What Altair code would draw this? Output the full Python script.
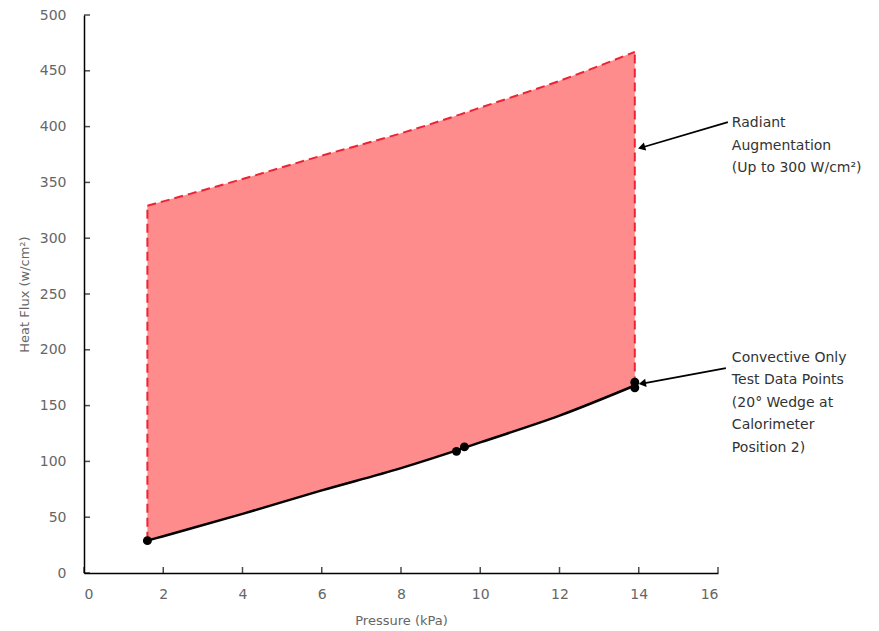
import altair as alt
import pandas as pd

# Convective-only heat flux curve and the radiant-augmented upper bound
pressure = [1.6, 2, 4, 6, 8, 9.5, 10, 12, 13.9]
convective = [29, 33, 53, 74, 94, 111, 117, 141, 168]
radiant_top = [329, 333, 353, 374, 394, 411, 417, 441, 467]

# Measured test points
test_pressure = [1.6, 9.4, 9.6, 13.9, 13.9]
test_flux = [29, 109, 113, 166, 171]

x_ticks = [0, 2, 4, 6, 8, 10, 12, 14, 16]
y_ticks = [0, 50, 100, 150, 200, 250, 300, 350, 400, 450, 500]

# Callout notes (one row per text line) and their leader arrows
note_lines = ["Radiant", "Augmentation", "(Up to 300 W/cm\u00b2)",
              "Convective Only", "Test Data Points", "(20\u00b0 Wedge at",
              "Calorimeter", "Position 2)"]
note_x = [16.35] * 8
note_y = [403, 383, 363, 193, 172.5, 152.5, 132.5, 112]

arrow_x0 = [16.25, 16.2]
arrow_y0 = [404, 183.5]
arrow_x1 = [14.1, 14.12]
arrow_y1 = [381.5, 170]
arrow_angle = [254, 260]

W, H = 634, 558

curve = pd.DataFrame({"p": pressure, "conv": convective, "top": radiant_top})
edges = pd.DataFrame({"p": [pressure[0], pressure[-1]],
                      "lo": [convective[0], convective[-1]],
                      "hi": [radiant_top[0], radiant_top[-1]]})
points = pd.DataFrame({"p": test_pressure, "q": test_flux})
notes = pd.DataFrame({"x": note_x, "y": note_y, "t": note_lines})
arrows = pd.DataFrame({"x0": arrow_x0, "y0": arrow_y0, "x1": arrow_x1,
                       "y1": arrow_y1, "a": arrow_angle})
xt = pd.DataFrame({"v": x_ticks})
yt = pd.DataFrame({"v": y_ticks})

font = "DejaVu Sans"
gray = "#666666"
red = "#ee2233"

xs = alt.Scale(domain=[0, 16], nice=False)
ys = alt.Scale(domain=[0, 500], nice=False)

x_axis = alt.Axis(values=x_ticks, title="Pressure (kPa)", grid=False,
                  ticks=False, tickSize=0, labelPadding=14,
                  domainColor="black", domainWidth=1.5,
                  labelColor=gray, labelFont=font, labelFontSize=14,
                  titleColor=gray, titleFont=font, titleFontSize=13,
                  titleFontWeight="normal", titlePadding=13)
y_axis = alt.Axis(values=y_ticks, title="Heat Flux (w/cm\u00b2)", grid=False,
                  ticks=False, tickSize=0, labelPadding=18,
                  domainColor="black", domainWidth=1.5,
                  labelColor=gray, labelFont=font, labelFontSize=14,
                  titleColor=gray, titleFont=font, titleFontSize=13,
                  titleFontWeight="normal", titlePadding=8)

band = alt.Chart(curve).mark_area(
    color="#ff8c8c", opacity=1, interpolate="monotone"
).encode(
    x=alt.X("p:Q", scale=xs, axis=x_axis),
    y=alt.Y("top:Q", scale=ys, axis=y_axis),
    y2="conv:Q",
)

top_dash = alt.Chart(curve).mark_line(
    color=red, strokeWidth=2, strokeDash=[9, 5], interpolate="monotone"
).encode(x=alt.X("p:Q", scale=xs), y=alt.Y("top:Q", scale=ys))

side_dash = alt.Chart(edges).mark_rule(
    color=red, strokeWidth=2, strokeDash=[9, 5]
).encode(x=alt.X("p:Q", scale=xs), y=alt.Y("lo:Q", scale=ys), y2="hi:Q")

conv_line = alt.Chart(curve).mark_line(
    color="black", strokeWidth=2.5, interpolate="monotone"
).encode(x=alt.X("p:Q", scale=xs), y=alt.Y("conv:Q", scale=ys))

dots = alt.Chart(points).mark_circle(color="black", size=80, opacity=1).encode(
    x=alt.X("p:Q", scale=xs), y=alt.Y("q:Q", scale=ys)
)

x_tick_marks = alt.Chart(xt).mark_tick(
    color="black", thickness=1.5, size=6, yOffset=-3
).encode(x=alt.X("v:Q", scale=xs), y=alt.value(H))

y_tick_marks = alt.Chart(yt).mark_tick(
    color="black", thickness=1.5, size=6, xOffset=3
).encode(y=alt.Y("v:Q", scale=ys), x=alt.value(0))

leaders = alt.Chart(arrows).mark_rule(
    color="black", strokeWidth=1.8, clip=False
).encode(
    x=alt.X("x0:Q", scale=xs), y=alt.Y("y0:Q", scale=ys),
    x2="x1:Q", y2="y1:Q",
)

heads = alt.Chart(arrows).mark_point(
    shape="triangle", filled=True, color="black", size=70, opacity=1, clip=False
).encode(
    x=alt.X("x1:Q", scale=xs), y=alt.Y("y1:Q", scale=ys),
    angle=alt.Angle("a:Q", scale=None),
)

text = alt.Chart(notes).mark_text(
    align="left", baseline="middle", font=font, fontSize=14,
    color="#333333", clip=False
).encode(
    x=alt.X("x:Q", scale=xs), y=alt.Y("y:Q", scale=ys), text="t:N"
)

chart = alt.layer(
    band, top_dash, side_dash, conv_line, dots, x_tick_marks, y_tick_marks,
    leaders, heads, text
).properties(
    width=W, height=H,
    autosize=alt.AutoSizeParams(type="none"),
    padding={"left": 84, "top": 15, "right": 161, "bottom": 58},
).configure(background="white").configure_view(stroke=None)

chart.save("out.html", embed_options={"renderer": "svg", "actions": False})
